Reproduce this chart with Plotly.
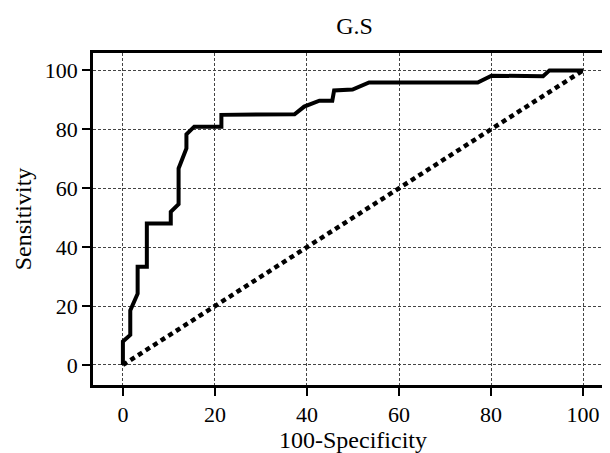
import plotly.graph_objects as go

# ROC curve points
fpr = [0, 0, 1.6, 1.6, 3.2, 3.2, 5.2, 5.2, 10.4, 10.4, 12.1, 12.1, 13.8, 13.8,
       15.5, 21.4, 21.4, 37.3, 39.4, 42.7, 45.5, 45.9, 49.9, 53.5, 77.1, 80.1,
       91.3, 92.7, 100]
tpr = [0, 8, 10.2, 18.5, 24.2, 33.3, 33.3, 48, 48, 52, 54.6, 66.7, 73.5, 78.3,
       80.9, 80.9, 84.9, 85.1, 87.7, 89.7, 89.7, 93.2, 93.5, 95.9, 95.9, 98.2,
       98, 100, 100]
ref_x = [0, 100]
ref_y = [0, 100]
tick_vals = [0, 20, 40, 60, 80, 100]

FONT = "Liberation Serif"

fig = go.Figure()
fig.add_trace(go.Scatter(x=ref_x, y=ref_y, mode="lines",
                         line=dict(color="black", width=4.5, dash="5px,4px"),
                         showlegend=False, hoverinfo="skip"))
fig.add_trace(go.Scatter(x=fpr, y=tpr, mode="lines",
                         line=dict(color="black", width=4),
                         showlegend=False))

axis_common = dict(
    showline=True, linecolor="black", linewidth=2.5, mirror=True,
    ticks="outside", ticklen=8, tickwidth=2, tickcolor="black",
    showgrid=True, gridcolor="#444444", gridwidth=1, griddash="3px,2px",
    zeroline=False, tickvals=tick_vals,
    tickfont=dict(family=FONT, size=22, color="black"),
)

fig.update_xaxes(range=[-6.5, 106.5],
                 title=dict(text="100-Specificity", standoff=6,
                            font=dict(family=FONT, size=24, color="black")),
                 **axis_common)
fig.update_yaxes(range=[-6.8, 105.9],
                 title=dict(text="Sensitivity", standoff=7,
                            font=dict(family=FONT, size=24, color="black")),
                 **axis_common)

fig.update_layout(
    width=610, height=453,
    margin=dict(l=85, r=2, t=45, b=76),
    paper_bgcolor="white", plot_bgcolor="white",
    title=dict(text="G.S", x=(85 + 608) / 2 / 610, xanchor="center",
               y=1 - 26 / 453, yanchor="bottom",
               font=dict(family=FONT, size=24, color="black")),
    font=dict(family=FONT, color="black"),
)

fig.write_html("out.html")
